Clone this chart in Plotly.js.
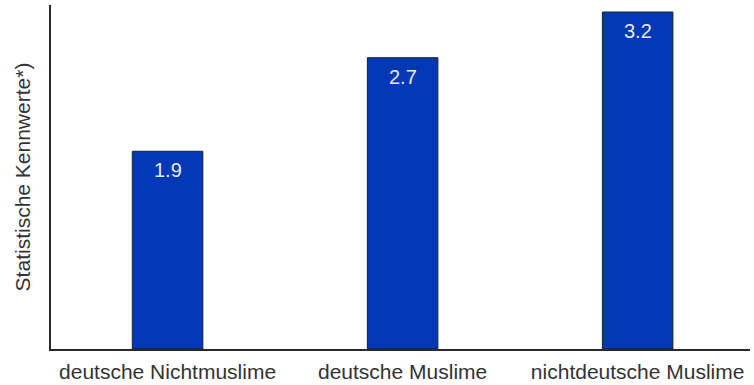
<!DOCTYPE html>
<html>
<head>
<meta charset="utf-8">
<script src="https://cdn.plot.ly/plotly-3.0.1.min.js"></script>
<style>html,body{margin:0;padding:0;background:#fff}#chart{width:754px;height:385px}</style>
</head>
<body>
<div id="chart"></div>
<script>
const categories = ["deutsche Nichtmuslime", "deutsche Muslime", "nichtdeutsche Muslime"];
const values = [1.86, 2.74, 3.17];
const valueLabels = ["1.9", "2.7", "3.2"];
const yTitle = "Statistische Kennwerte*)";

const FONT = "Liberation Sans, Arial, sans-serif";

const trace = {
  type: "bar",
  x: categories,
  y: values,
  width: 0.30,
  marker: { color: "#0038b6", line: { color: "#1e1e28", width: 1 } },
  hoverinfo: "skip"
};

const annotations = categories.map((c, i) => ({
  x: c, y: values[i], xref: "x", yref: "y",
  text: valueLabels[i], showarrow: false,
  yanchor: "top", yshift: -6,
  font: { family: FONT, size: 20, color: "#e8eaf2" }
}));

const layout = {
  width: 754, height: 385,
  margin: { l: 51, r: 4, t: 5, b: 36 },
  paper_bgcolor: "#ffffff", plot_bgcolor: "#ffffff",
  showlegend: false,
  xaxis: {
    range: [-0.496, 2.478],
    showline: true, linecolor: "#2a2a2a", linewidth: 2,
    showgrid: false, zeroline: false, ticks: "",
    ticklabelstandoff: 3,
    tickfont: { family: FONT, size: 21, color: "#333333" }
  },
  yaxis: {
    range: [0, 3.236],
    showline: true, linecolor: "#2a2a2a", linewidth: 2,
    showgrid: false, zeroline: false, ticks: "", showticklabels: false,
    title: { text: yTitle, standoff: 13, font: { family: FONT, size: 21, color: "#333333" } }
  },
  annotations: annotations
};

Plotly.newPlot("chart", [trace], layout, { staticPlot: true, displayModeBar: false });
</script>
</body>
</html>
